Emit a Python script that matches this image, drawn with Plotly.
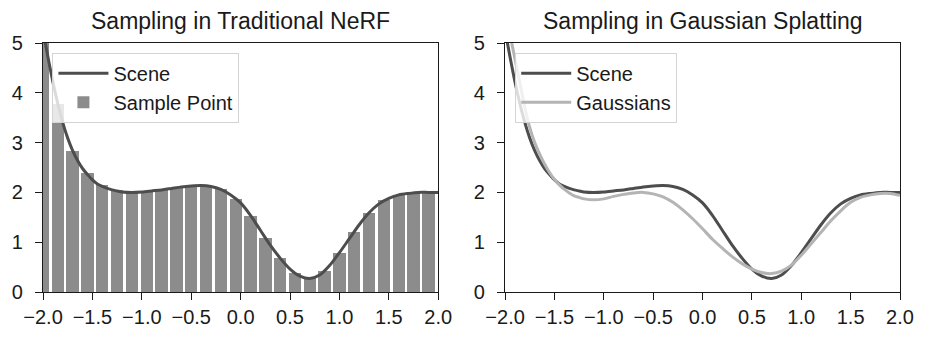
import plotly.graph_objects as go

# ---------------- data ----------------
scene_x = [-2.0, -1.95, -1.9, -1.85, -1.8, -1.75, -1.7, -1.65, -1.6, -1.55, -1.5, -1.45,
           -1.4, -1.35, -1.3, -1.25, -1.2, -1.1, -1.0, -0.9, -0.8, -0.7, -0.6, -0.5, -0.4,
           -0.3, -0.2, -0.1, 0.0, 0.1, 0.2, 0.3, 0.4, 0.5, 0.6, 0.7, 0.8, 0.9, 1.0, 1.1,
           1.2, 1.3, 1.4, 1.5, 1.6, 1.7, 1.8, 1.9, 2.0]
scene_y = [5.25, 4.72, 4.22, 3.78, 3.40, 3.09, 2.84, 2.64, 2.48, 2.36, 2.25, 2.17,
           2.12, 2.08, 2.05, 2.03, 2.01, 2.00, 2.01, 2.03, 2.05, 2.08, 2.11, 2.13, 2.14,
           2.12, 2.06, 1.95, 1.79, 1.54, 1.24, 0.94, 0.68, 0.46, 0.32, 0.27, 0.34, 0.53, 0.79, 1.07,
           1.35, 1.59, 1.77, 1.88, 1.95, 1.98, 2.00, 2.00, 2.00]

gauss_x = scene_x
gauss_y = [5.70, 5.17, 4.68, 4.20, 3.70, 3.30, 3.00, 2.77, 2.57, 2.40, 2.26, 2.15,
           2.06, 1.99, 1.93, 1.90, 1.87, 1.85, 1.87, 1.92, 1.96, 1.99, 2.00, 1.97, 1.91,
           1.80, 1.65, 1.47, 1.27, 1.06, 0.88, 0.71, 0.57, 0.46, 0.39, 0.37, 0.42, 0.54, 0.74, 0.97,
           1.20, 1.43, 1.63, 1.80, 1.90, 1.95, 1.98, 1.98, 1.94]

sample_x = [-2.0, -1.85, -1.7, -1.55, -1.4, -1.25, -1.1, -0.95, -0.8, -0.65, -0.5, -0.35,
            -0.2, -0.05, 0.1, 0.25, 0.4, 0.55, 0.7, 0.85, 1.0, 1.15, 1.3, 1.45, 1.6, 1.75, 1.9]
sample_h = [5.25, 3.78, 2.84, 2.38, 2.15, 2.04, 2.00, 2.01, 2.04, 2.08, 2.12, 2.13,
            2.06, 1.86, 1.52, 1.09, 0.68, 0.39, 0.28, 0.43, 0.78, 1.21, 1.59, 1.84, 1.95, 1.98, 2.00]

x_tick_vals = [-2.0, -1.5, -1.0, -0.5, 0.0, 0.5, 1.0, 1.5, 2.0]
x_tick_text = ["\u22122.0", "\u22121.5", "\u22121.0", "\u22120.5", "0.0", "0.5", "1.0", "1.5", "2.0"]
y_tick_vals = [0, 1, 2, 3, 4, 5]

titles = ["Sampling in Traditional NeRF", "Sampling in Gaussian Splatting"]

# ---------------- style ----------------
FONT = "Liberation Sans, Arial, sans-serif"
TXT = "#1a1a1a"
SCENE_C = "#4d4d4d"
GAUSS_C = "#b4b4b4"
BAR_C = "#8c8c8c"

W, H = 926, 340
ml, mr, mt, mb = 41, 21, 43, 37
split_l = 0.4612
split_r = 0.5392

fig = go.Figure()

fig.add_trace(go.Bar(x=sample_x, y=sample_h, width=0.125, name="Sample Point",
                     marker=dict(color=BAR_C, line=dict(width=0)),
                     xaxis="x", yaxis="y", legend="legend", legendrank=2))
fig.add_trace(go.Scatter(x=scene_x, y=scene_y, mode="lines", name="Scene",
                         line=dict(color=SCENE_C, width=3, shape="spline", smoothing=0.8),
                         xaxis="x", yaxis="y", legend="legend", legendrank=1))

fig.add_trace(go.Scatter(x=scene_x, y=scene_y, mode="lines", name="Scene",
                         line=dict(color=SCENE_C, width=3, shape="spline", smoothing=0.8),
                         xaxis="x2", yaxis="y2", legend="legend2"))
fig.add_trace(go.Scatter(x=gauss_x, y=gauss_y, mode="lines", name="Gaussians",
                         line=dict(color=GAUSS_C, width=3, shape="spline", smoothing=0.8),
                         xaxis="x2", yaxis="y2", legend="legend2"))

axis_common = dict(showgrid=False, zeroline=False, showline=True, linecolor=TXT, linewidth=1.3,
                   mirror=True, ticks="outside", ticklen=7, tickwidth=1.3, tickcolor=TXT,
                   tickfont=dict(family=FONT, size=20, color=TXT))

xa = dict(axis_common, range=[-2, 2], tickmode="array", tickvals=x_tick_vals, ticktext=x_tick_text)
ya = dict(axis_common, range=[0, 5], tickmode="array", tickvals=y_tick_vals, ticklabelstandoff=8)

legend_common = dict(bgcolor="rgba(255,255,255,0.8)", bordercolor="#d4d4d4", borderwidth=1,
                     font=dict(family=FONT, size=20, color=TXT), xanchor="left", yanchor="top",
                     traceorder="normal", itemwidth=50)

fig.update_layout(
    width=W, height=H, margin=dict(l=ml, r=mr, t=mt, b=mb),
    paper_bgcolor="white", plot_bgcolor="white", bargap=0,
    font=dict(family=FONT, color=TXT),
    xaxis=dict(xa, domain=[0, split_l], anchor="y"),
    yaxis=dict(ya, domain=[0, 1], anchor="x"),
    xaxis2=dict(xa, domain=[split_r, 1], anchor="y2"),
    yaxis2=dict(ya, domain=[0, 1], anchor="x2"),
    legend=dict(legend_common, x=0.011, y=0.961),
    legend2=dict(legend_common, x=0.551, y=0.961),
    showlegend=True,
    annotations=[
        dict(text=titles[0], x=split_l / 2, y=1, xref="paper", yref="paper",
             xanchor="center", yanchor="bottom", yshift=7, showarrow=False,
             font=dict(family=FONT, size=23, color=TXT)),
        dict(text=titles[1], x=(split_r + 1) / 2, y=1, xref="paper", yref="paper",
             xanchor="center", yanchor="bottom", yshift=7, showarrow=False,
             font=dict(family=FONT, size=23, color=TXT)),
    ],
)

fig.write_html("out.html")
